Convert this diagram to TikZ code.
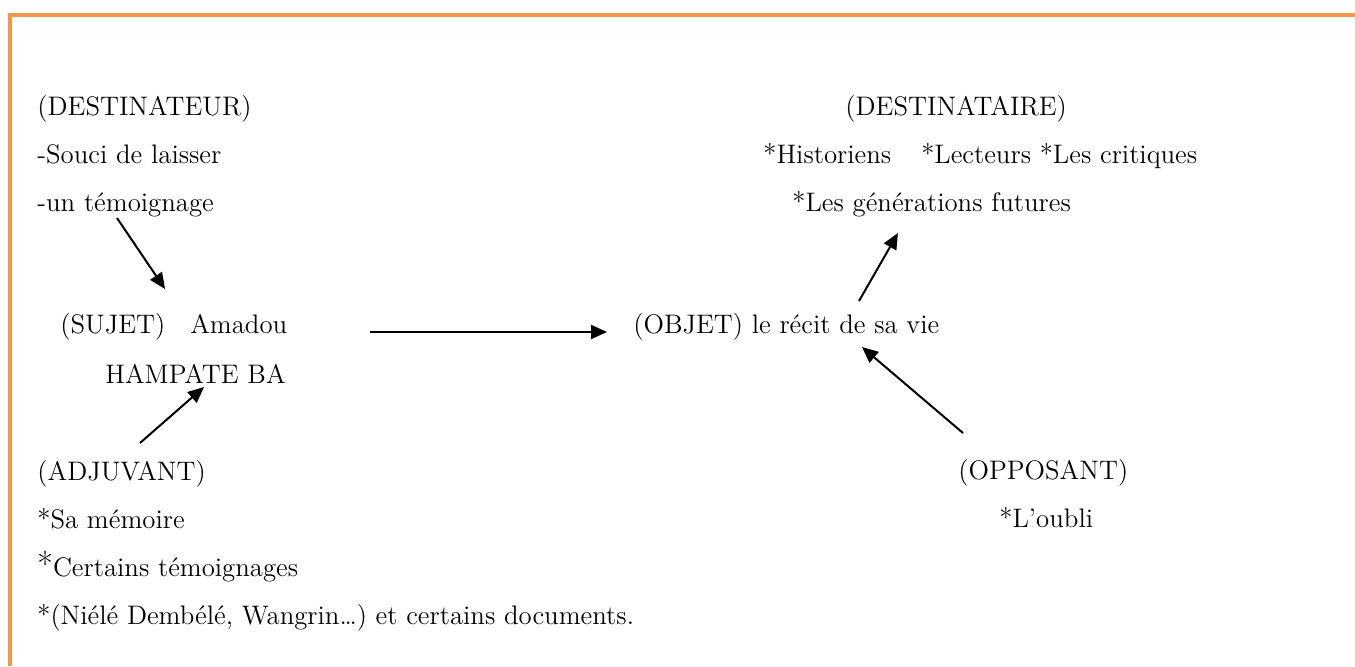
\documentclass[tikz,border=0pt]{standalone}
\usepackage{fontspec}
\usepackage{tikz}
\usetikzlibrary{arrows.meta}
\definecolor{bordure}{HTML}{F79646}

\begin{document}
\begin{tikzpicture}[x=0.5pt,y=-0.5pt,
  font=\fontsize{13.4pt}{16pt}\selectfont,
  txt/.style={anchor=base west,inner sep=0pt},
  fleche/.style={-{Triangle[length=8pt,width=7pt]},line width=1pt}]
\useasboundingbox (0,0) rectangle (1355,666);
%Shape: page border
\draw[bordure,line width=2.3pt] (10,666) -- (10,15) -- (1355,15);
% Text Node
\node[txt] (destinateur) at (37,115) {(DESTINATEUR)};
\node[txt] (souci) at (37,163) {-Souci de laisser};
\node[txt] (temoin) at (37,211) {-un témoignage};
% Text Node
\node[txt] (sujet) at (60,333) {(SUJET)\hspace{12.5pt}Amadou};
\node[txt] (hampate) at (105,383) {HAMPATE BA};
% Text Node
\node[txt] (objet) at (633,333) {(OBJET) le récit de sa vie};
% Text Node
\node[txt] (destinataire) at (845,115) {(DESTINATAIRE)};
\node[txt] (lecteurs) at (763,163) {*Historiens\hspace{15pt}*Lecteurs *Les critiques};
\node[txt] (generations) at (792,211) {*Les générations futures};
% Text Node
\node[txt] (adjuvant) at (37,480) {(ADJUVANT)};
\node[txt] (memoire) at (37,528) {*Sa mémoire};
\node[txt] (certains) at (37,576) {{\fontsize{17pt}{16pt}\selectfont*}Certains témoignages};
\node[txt] (niele) at (37,624) {*(Niélé Dembélé, Wangrin…) et certains documents.};
% Text Node
\node[txt] (opposant) at (958,479) {(OPPOSANT)};
\node[txt] (oubli) at (999,527) {*L’oubli};
%Arrows
\draw[fleche] ([shift={(80,7)}]temoin.base west) -- ([shift={(105,-44)}]sujet.base west);
\draw[fleche] ([shift={(103,-37)}]adjuvant.base west) -- ([shift={(99,4)}]hampate.base west);
\draw[fleche] ([shift={(310,-1)}]sujet.base west) -- ([shift={(-26,-1)}]objet.base west);
\draw[fleche] ([shift={(226,-32)}]objet.base west) -- ([shift={(106,22)}]generations.base west);
\draw[fleche] ([shift={(5,-46)}]opposant.base west) -- ([shift={(229,14)}]objet.base west);
\end{tikzpicture}
\end{document}
